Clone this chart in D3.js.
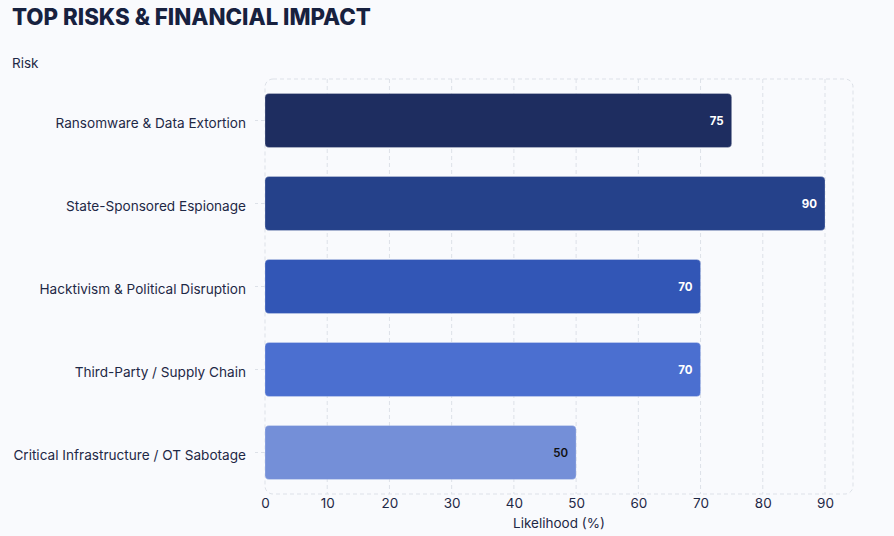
<!DOCTYPE html>
<html>
<head>
<meta charset="utf-8">
<script src="https://cdn.jsdelivr.net/npm/d3@7"></script>
<style>
  body { margin: 0; background: #f9fafd; font-family: Inter, "Noto Sans", sans-serif; }
  svg { display: block; }
</style>
</head>
<body>
<script>
// data
const risks = [
  "Ransomware & Data Extortion",
  "State-Sponsored Espionage",
  "Hacktivism & Political Disruption",
  "Third-Party / Supply Chain",
  "Critical Infrastructure / OT Sabotage"
];
const likelihood = [75, 90, 70, 70, 50];
const barColors = ["#1e2d60", "#25418a", "#3256b6", "#4b6fd0", "#748fd8"];
const labelColors = ["#fff", "#fff", "#fff", "#fff", "#111"];
const xTicks = [0, 10, 20, 30, 40, 50, 60, 70, 80, 90];

const width = 894, height = 536;
const margin = { top: 79, right: 41, bottom: 42, left: 265 };
const innerW = width - margin.left - margin.right;
const innerH = height - margin.top - margin.bottom;

const svg = d3.select("body").append("svg")
  .attr("width", width)
  .attr("height", height);

svg.append("text")
  .attr("x", 12).attr("y", 25)
  .attr("font-size", 22.3).attr("font-weight", 800)
  .attr("fill", "#17213f")
  .text("TOP RISKS & FINANCIAL IMPACT");

svg.append("text")
  .attr("x", 12).attr("y", 68)
  .attr("font-size", 13.5).attr("fill", "#1e2846")
  .text("Risk");

const x = d3.scaleLinear().domain([0, d3.max(likelihood) * 1.05]).range([0, innerW]);
const y = d3.scaleBand().domain(risks).range([0, innerH]).paddingInner(0.35).paddingOuter(0.175);

const g = svg.append("g").attr("transform", `translate(${margin.left},${margin.top})`);

// plot frame
g.append("rect")
  .attr("x", 0).attr("y", 0)
  .attr("width", innerW).attr("height", innerH)
  .attr("rx", 8)
  .attr("fill", "none")
  .attr("stroke", "#dde1e8")
  .attr("stroke-dasharray", "4,3");

// grid
g.selectAll(".grid")
  .data(xTicks.filter(d => d > 0))
  .enter()
  .append("line")
  .attr("x1", d => x(d)).attr("x2", d => x(d))
  .attr("y1", 0).attr("y2", innerH)
  .attr("stroke", "#dde1e8")
  .attr("stroke-dasharray", "4,3");

// x axis
const xAxis = g.append("g")
  .attr("transform", `translate(0,${innerH})`)
  .call(d3.axisBottom(x).tickValues(xTicks).tickSize(0).tickPadding(4));
xAxis.select(".domain").remove();
xAxis.selectAll("text").attr("font-size", 13.5).attr("fill", "#1e2846").attr("font-family", "Inter");

svg.append("text")
  .attr("x", margin.left + innerW / 2).attr("y", 528)
  .attr("text-anchor", "middle")
  .attr("font-size", 13.5).attr("fill", "#1e2846")
  .text("Likelihood (%)");

// y axis
const yAxis = g.append("g")
  .call(d3.axisLeft(y).tickSize(10).tickPadding(9));
yAxis.select(".domain").remove();
yAxis.selectAll("line").attr("stroke", "#dde1e8").attr("stroke-dasharray", "4,3");
yAxis.selectAll("text").attr("font-size", 13.6).attr("fill", "#1e2846")
  .attr("font-family", "Inter").attr("dy", "0.55em");

// bars
g.selectAll(".bar")
  .data(risks)
  .enter()
  .append("rect")
  .attr("x", 0)
  .attr("y", d => y(d))
  .attr("width", (d, i) => x(likelihood[i]))
  .attr("height", y.bandwidth())
  .attr("rx", 4)
  .attr("fill", (d, i) => barColors[i])
  .attr("stroke", "rgba(255,255,255,0.25)");

g.selectAll(".val")
  .data(risks)
  .enter()
  .append("text")
  .attr("x", (d, i) => x(likelihood[i]) - 8)
  .attr("y", d => y(d) + y.bandwidth() / 2)
  .attr("dy", "0.35em")
  .attr("text-anchor", "end")
  .attr("font-size", 11.5)
  .attr("font-weight", (d, i) => i < 4 ? 700 : 600)
  .attr("fill", (d, i) => labelColors[i])
  .text((d, i) => likelihood[i]);
</script>
</body>
</html>
